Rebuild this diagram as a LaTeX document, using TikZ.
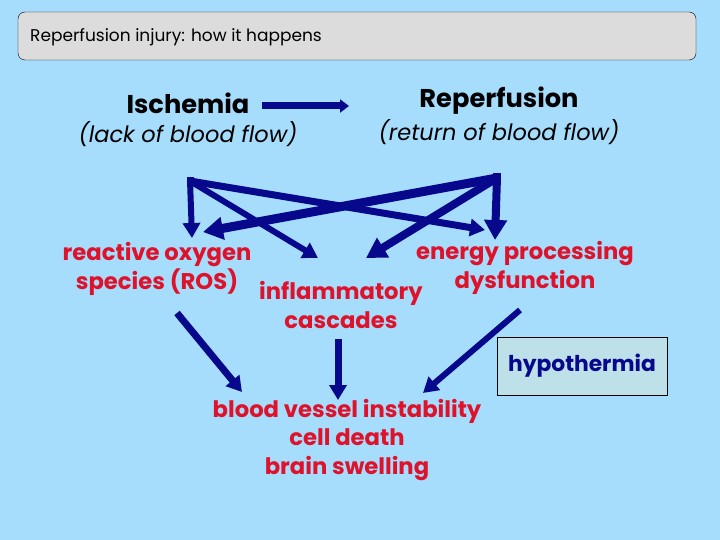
\documentclass[tikz,border=0pt]{standalone}
\usepackage{fontspec}
\setmainfont{Poppins}
\usetikzlibrary{arrows.meta}
\definecolor{bg}{RGB}{166,220,252}
\definecolor{titlegray}{RGB}{220,220,220}
\definecolor{navy}{RGB}{8,8,140}
\definecolor{redtxt}{RGB}{222,18,42}
\definecolor{boxfill}{RGB}{190,224,232}
\tikzset{
  redlabel/.style={text=redtxt, font=\fontsize{22.7}{28.5}\selectfont\bfseries, align=center, inner sep=0pt},
  headlabel/.style={text=black, font=\fontsize{25.7}{30}\selectfont\bfseries, inner sep=0pt},
  sublabel/.style={text=black, font=\fontsize{22.5}{26}\selectfont\itshape, inner sep=0pt},
  bigarrow/.style={draw=navy, line width=#1, -{Triangle[length=20pt,width=22pt]}},
  bigarrow/.default=7pt,
  midarrow/.style={draw=navy, line width=#1, -{Triangle[length=15pt,width=17pt]}},
  midarrow/.default=6pt,
}
\begin{document}
\begin{tikzpicture}[x=1pt,y=-1pt]
\fill[bg] (0,0) rectangle (720,540);
\useasboundingbox (0,0) rectangle (720,540);
% title
\node[draw=black, fill=titlegray, rounded corners=7pt, minimum width=678pt, minimum height=48pt, inner sep=0pt] (title) at (357,36) {};
\node[anchor=west, font=\fontsize{17}{20}\selectfont, inner sep=0pt] (ttext) at (30,37) {Reperfusion injury: how it happens};
% top row
\node[headlabel] (isch) at (188,103) {Ischemia};
\node[sublabel] (ischsub) at (188,134) {(lack of blood flow)};
\node[headlabel] (rep) at (499,101) {Reperfusion};
\node[sublabel] (repsub) at (499,132) {(return of blood flow)};
\coordinate (ia) at (262,106);
\coordinate (ib) at (349,106);
\draw[draw=navy, line width=7pt, -{Triangle[length=9pt,width=13pt]}] (ia) -- (ib);
% mid labels
\node[redlabel] (ros) at (157,269) {reactive oxygen\\species (ROS)};
\node[redlabel] (energy) at (525,268) {energy processing\\dysfunction};
\node[redlabel] (infl) at (341,305) {inflammatory\\cascades};
\node[redlabel] (out) at (347,440) {blood vessel instability\\cell death\\brain swelling};
\node[draw=black, fill=boxfill, minimum width=170pt, minimum height=58pt, inner sep=0pt, text=navy, font=\fontsize{21.8}{26}\selectfont\bfseries] (hypo) at (582,366) {hypothermia};
% junction points
\coordinate (TL) at (190,181);
\coordinate (TR) at (497,178);
\coordinate (tRosV) at (192,238);
\coordinate (tRosX) at (203,232);
\coordinate (tEnV) at (495,240);
\coordinate (tEnX) at (485,230);
\coordinate (tInL) at (318,258);
\coordinate (tInR) at (366,258);
\coordinate (tOutL) at (242,392);
\coordinate (tOutM) at (338,400);
\coordinate (tOutR) at (423,393);
\coordinate (sOutL) at (177,313);
\coordinate (sOutM) at (338,339);
\coordinate (sOutR) at (520,310);
% cross arrows
\draw[bigarrow=9pt] (TR) -- (tRosX);
\draw[midarrow=7pt] (TL) -- (tEnX);
\draw[midarrow=6pt] (TL) -- (tInL);
\draw[bigarrow=8pt] (TR) -- (tInR);
\draw[midarrow=6pt] ([yshift=1pt]TL) -- (tRosV);
\draw[bigarrow=8pt] ([yshift=1pt]TR) -- (tEnV);
\fill[navy] (TL) ++(-3pt,-3pt) rectangle ++(7pt,7pt);
\fill[navy] (TR) ++(-4pt,-3pt) rectangle ++(8pt,8pt);
% lower arrows
\draw[midarrow=7pt] (sOutL) -- (tOutL);
\draw[midarrow=7pt] (sOutM) -- (tOutM);
\draw[midarrow=6pt] (sOutR) -- (tOutR);
\end{tikzpicture}
\end{document}
